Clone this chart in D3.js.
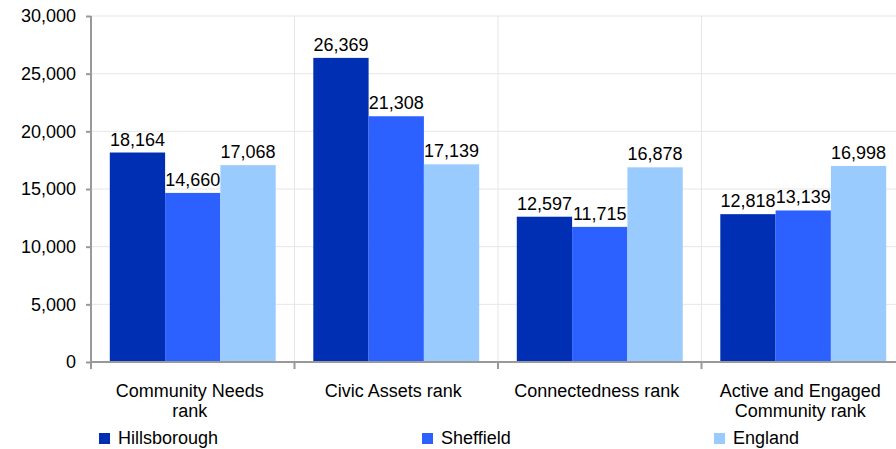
<!DOCTYPE html>
<html><head><meta charset="utf-8">
<script src="https://cdn.jsdelivr.net/npm/d3@7"></script>
<style>body{margin:0;background:#fff;}svg{display:block;font-family:"Liberation Sans",Arial,sans-serif;}</style>
</head><body><svg id="c" width="896" height="449"></svg>
<script>
const categories = [["Community Needs","rank"],["Civic Assets rank"],["Connectedness rank"],["Active and Engaged","Community rank"]];
const seriesNames = ["Hillsborough","Sheffield","England"];
const hillsborough = [18164, 26369, 12597, 12818];
const sheffield = [14660, 21308, 11715, 13139];
const england = [17068, 17139, 16878, 16998];
const yTicks = [0,5000,10000,15000,20000,25000,30000];
const colors = ["#012fb3","#2d61ff","#99cbff"];

const FS = 18;
const series = [hillsborough, sheffield, england];
const svg = d3.select("#c");
const x0 = 91, x1 = 905, y0 = 362, y1 = 16;
const x = d3.scaleBand().domain(d3.range(categories.length)).range([x0, x1]).paddingInner(0).paddingOuter(0);
const xs = d3.scaleBand().domain(d3.range(3)).range([0, x.bandwidth()]).paddingOuter(0.34).paddingInner(0);
const y = d3.scaleLinear().domain([0, 30000]).range([y0, y1]);

// gridlines
svg.append("g").selectAll("line").data(yTicks.slice(1)).join("line")
  .attr("x1", x0).attr("x2", 896).attr("y1", d => y(d)).attr("y2", d => y(d))
  .attr("stroke", "#e6e6e6").attr("stroke-width", 1);
svg.append("g").selectAll("line").data(d3.range(1, categories.length)).join("line")
  .attr("x1", d => x(d)).attr("x2", d => x(d)).attr("y1", y1).attr("y2", y0)
  .attr("stroke", "#e6e6e6").attr("stroke-width", 1);

// bars
categories.forEach((c, i) => {
  series.forEach((s, j) => {
    const bx = x(i) + xs(j);
    svg.append("rect").attr("x", bx).attr("y", y(s[i])).attr("width", xs.bandwidth())
      .attr("height", y(0) - y(s[i])).attr("fill", colors[j]);
    svg.append("text").attr("x", bx + xs.bandwidth() / 2).attr("y", y(s[i]) - 7)
      .attr("text-anchor", "middle").attr("font-size", FS).attr("fill", "#000")
      .text(d3.format(",")(s[i]));
  });
});

// y axis
const yAxis = d3.axisLeft(y).tickValues(yTicks).tickFormat(d3.format(",")).tickSize(5).tickPadding(10);
const gy = svg.append("g").attr("transform", `translate(${x0},0)`).call(yAxis);
gy.select(".domain").attr("stroke", "#999").attr("stroke-width", 2).attr("d", `M0,${y1}V${y0}`);
gy.selectAll(".tick line").attr("stroke", "#999").attr("stroke-width", 2);
gy.selectAll(".tick text").attr("font-size", FS).attr("fill", "#000").attr("font-family", '"Liberation Sans",Arial,sans-serif');

// x axis
svg.append("line").attr("x1", x0).attr("x2", 896).attr("y1", y0).attr("y2", y0).attr("stroke", "#999").attr("stroke-width", 2);
svg.append("g").selectAll("line").data(d3.range(0, categories.length)).join("line")
  .attr("x1", d => x(d)).attr("x2", d => x(d)).attr("y1", y0).attr("y2", y0 + 7)
  .attr("stroke", "#999").attr("stroke-width", 2);
categories.forEach((lines, i) => {
  const t = svg.append("text").attr("text-anchor", "middle").attr("font-size", FS).attr("fill", "#000");
  lines.forEach((ln, k) => {
    t.append("tspan").attr("x", x(i) + x.bandwidth() / 2 - 3).attr("y", 397 + k * 20).text(ln);
  });
});

// legend
const legX = [99, 422, 714];
seriesNames.forEach((n, j) => {
  svg.append("rect").attr("x", legX[j]).attr("y", 433).attr("width", 11).attr("height", 11).attr("fill", colors[j]);
  svg.append("text").attr("x", legX[j] + 19).attr("y", 444).attr("font-size", FS).attr("fill", "#000").text(n);
});
</script></body></html>
